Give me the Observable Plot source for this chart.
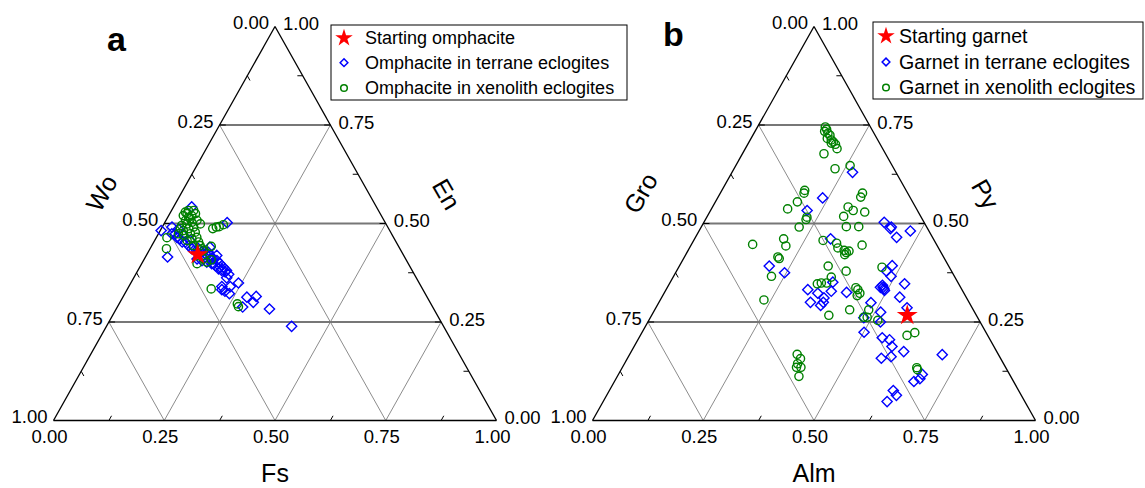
<!DOCTYPE html>
<html><head><meta charset="utf-8">
<script src="https://cdn.jsdelivr.net/npm/d3@7"></script>
<script src="https://cdn.jsdelivr.net/npm/@observablehq/plot@0.6"></script>
<style>
html,body{margin:0;padding:0;background:#fff;}
#chart{position:relative;width:1145px;height:488px;}
</style></head><body><div id="chart"></div>
<script>
// ---------------- data ----------------
const tickValues = [0, 0.25, 0.5, 0.75, 1];
const tickLabels = ["0.00", "0.25", "0.50", "0.75", "1.00"];
const minorValues = [0.125, 0.375, 0.625, 0.875];
const gridValues = [0.25, 0.5, 0.75];

const panelLetters = ["a", "b"];
// vertex names: [left vertex, top vertex, right vertex]
const axisNamesA = ["Wo", "En", "Fs"];
const axisNamesB = ["Gro", "Py", "Alm"];
const legendLabelsA = ["Starting omphacite", "Omphacite in terrane eclogites", "Omphacite in xenolith eclogites"];
const legendLabelsB = ["Starting garnet", "Garnet in terrane eclogites", "Garnet in xenolith eclogites"];

// Panel a: [Wo, En, Fs]
const omphStarting = [[0.464, 0.421, 0.115]];
const omphTerrane = [
  [0.417,0.542,0.041],[0.516,0.482,0.002],[0.535,0.415,0.050],[0.357,0.502,0.141],
  [0.488,0.474,0.038],[0.484,0.461,0.055],[0.476,0.453,0.071],[0.473,0.444,0.083],
  [0.464,0.440,0.096],[0.455,0.436,0.109],[0.452,0.427,0.121],[0.446,0.423,0.131],
  [0.437,0.419,0.144],[0.434,0.410,0.156],[0.428,0.406,0.166],[0.425,0.398,0.177],
  [0.422,0.389,0.189],[0.419,0.381,0.200],[0.435,0.385,0.180],[0.444,0.398,0.158],
  [0.453,0.402,0.145],[0.462,0.406,0.132],[0.471,0.410,0.119],[0.438,0.393,0.169],
  [0.430,0.381,0.189],[0.427,0.440,0.133],[0.437,0.427,0.136],[0.422,0.419,0.159],
  [0.475,0.486,0.039],[0.472,0.470,0.058],[0.463,0.457,0.080],[0.489,0.465,0.046],
  [0.484,0.453,0.064],[0.470,0.436,0.094],[0.463,0.427,0.110],[0.450,0.415,0.135],
  [0.440,0.398,0.162],[0.429,0.389,0.182],[0.424,0.377,0.199],[0.420,0.371,0.210],
  [0.438,0.410,0.152],[0.496,0.474,0.030],[0.487,0.491,0.022],
  [0.428,0.362,0.210],[0.450,0.340,0.210],[0.431,0.340,0.229],[0.408,0.349,0.243],
  [0.449,0.328,0.223],[0.442,0.322,0.236],[0.454,0.332,0.214],[0.407,0.313,0.280],
  [0.386,0.315,0.300],[0.399,0.300,0.301],[0.429,0.288,0.283],[0.371,0.283,0.346],
  [0.343,0.239,0.418]
];
const omphXenolith = [
  [0.438,0.529,0.033],[0.437,0.525,0.039],[0.446,0.520,0.033],[0.437,0.516,0.047],
  [0.436,0.512,0.053],[0.449,0.508,0.044],[0.449,0.499,0.052],[0.436,0.503,0.061],
  [0.463,0.495,0.042],[0.439,0.491,0.071],[0.452,0.487,0.062],[0.465,0.482,0.052],
  [0.441,0.478,0.081],[0.455,0.474,0.072],[0.444,0.465,0.091],[0.457,0.461,0.082],
  [0.471,0.457,0.073],[0.446,0.453,0.101],[0.447,0.444,0.109],[0.462,0.444,0.094],
  [0.447,0.436,0.117],[0.446,0.432,0.123],[0.472,0.470,0.059],[0.471,0.487,0.043],
  [0.481,0.474,0.045],[0.418,0.525,0.058],[0.417,0.533,0.050],[0.429,0.533,0.038],
  [0.423,0.508,0.070],[0.419,0.499,0.082],[0.428,0.520,0.052],[0.512,0.464,0.024],
  [0.528,0.436,0.037],[0.397,0.487,0.116],[0.388,0.491,0.122],[0.379,0.492,0.128],
  [0.368,0.497,0.135],[0.423,0.442,0.135],[0.440,0.408,0.152],[0.456,0.410,0.134],
  [0.453,0.402,0.145],[0.478,0.398,0.125],[0.477,0.334,0.189],[0.437,0.296,0.267],
  [0.438,0.289,0.273]
];

// Panel b: [Gro, Py, Alm]
const grtStarting = [[0.157, 0.267, 0.577]];
const grtTerrane = [
  [0.098,0.630,0.272],[0.198,0.565,0.237],[0.249,0.533,0.218],[0.090,0.503,0.407],
  [0.080,0.491,0.429],[0.084,0.487,0.429],[0.081,0.465,0.454],[0.042,0.481,0.477],
  [0.232,0.461,0.307],[0.405,0.392,0.203],[0.379,0.375,0.246],[0.127,0.393,0.480],
  [0.147,0.379,0.474],[0.143,0.366,0.491],[0.175,0.343,0.483],[0.175,0.338,0.487],
  [0.175,0.334,0.491],[0.176,0.330,0.494],[0.181,0.338,0.481],[0.122,0.347,0.531],
  [0.150,0.313,0.537],[0.147,0.286,0.567],[0.348,0.332,0.320],[0.330,0.323,0.347],
  [0.322,0.311,0.367],[0.329,0.300,0.371],[0.358,0.300,0.342],[0.339,0.292,0.369],
  [0.297,0.328,0.375],[0.282,0.351,0.367],[0.264,0.325,0.411],[0.222,0.299,0.479],
  [0.212,0.275,0.513],[0.257,0.261,0.482],[0.225,0.250,0.525],[0.275,0.224,0.501],
  [0.241,0.210,0.549],[0.227,0.205,0.568],[0.230,0.188,0.582],[0.210,0.175,0.615],
  [0.245,0.162,0.593],[0.269,0.158,0.573],[0.127,0.167,0.706],[0.197,0.117,0.686],
  [0.208,0.106,0.686],[0.225,0.099,0.676],[0.283,0.076,0.641],[0.282,0.064,0.654],
  [0.294,0.048,0.641]
];
const grtXenolith = [
  [0.103,0.745,0.153],[0.103,0.739,0.159],[0.110,0.734,0.157],[0.104,0.729,0.167],
  [0.102,0.724,0.174],[0.113,0.716,0.172],[0.105,0.712,0.183],[0.103,0.707,0.190],
  [0.102,0.701,0.198],[0.103,0.690,0.207],[0.109,0.704,0.187],[0.139,0.677,0.184],
  [0.134,0.639,0.228],[0.095,0.647,0.258],[0.229,0.584,0.187],[0.234,0.577,0.189],
  [0.102,0.577,0.321],[0.112,0.567,0.322],[0.261,0.555,0.185],[0.291,0.537,0.172],
  [0.153,0.542,0.306],[0.145,0.533,0.322],[0.174,0.518,0.308],[0.122,0.529,0.350],
  [0.258,0.516,0.226],[0.263,0.510,0.227],[0.288,0.491,0.221],[0.180,0.492,0.327],
  [0.153,0.492,0.355],[0.416,0.447,0.138],[0.338,0.461,0.201],[0.342,0.443,0.215],
  [0.374,0.415,0.211],[0.373,0.411,0.216],[0.251,0.457,0.292],[0.224,0.450,0.326],
  [0.227,0.438,0.335],[0.217,0.432,0.352],[0.213,0.426,0.360],[0.220,0.421,0.359],
  [0.207,0.430,0.364],[0.169,0.445,0.386],[0.272,0.392,0.336],[0.238,0.379,0.383],
  [0.279,0.364,0.357],[0.152,0.389,0.459],[0.414,0.366,0.221],[0.460,0.306,0.234],
  [0.319,0.347,0.334],[0.310,0.349,0.342],[0.298,0.349,0.354],[0.333,0.267,0.400],
  [0.237,0.337,0.426],[0.235,0.332,0.433],[0.235,0.323,0.442],[0.244,0.317,0.439],
  [0.279,0.281,0.440],[0.236,0.281,0.483],[0.249,0.262,0.489],[0.229,0.254,0.517],
  [0.256,0.262,0.481],[0.182,0.216,0.602],[0.162,0.223,0.616],[0.454,0.168,0.378],
  [0.452,0.157,0.391],[0.465,0.144,0.391],[0.461,0.135,0.403],[0.478,0.112,0.410],
  [0.472,0.135,0.393],[0.202,0.134,0.665],[0.203,0.129,0.669]
];

// ---------------- layout ----------------
const FONT = "'Liberation Sans', Arial, Helvetica, sans-serif";
const panelOffset = {a: 0, b: 1.2167}; // horizontal shift of panel b in triangle widths
const BLUE = "#0000ff", GREEN = "#008000", RED = "#ff0000";

// ternary -> cartesian (t = [left, top, right])
const TX = (p, t) => panelOffset[p] + t[2] + t[1] / 2;
const TY = (t) => t[1];

function panelMarks(p, names, start, terrane, xenolith) {
  const marks = [];
  const hor = [], diag = [];
  for (const v of gridValues) {
    hor.push({a: [1 - v, v, 0], b: [0, v, 1 - v]});
    diag.push({a: [1 - v, 0, v], b: [0, 1 - v, v]});
    diag.push({a: [v, 0, 1 - v], b: [v, 1 - v, 0]});
  }
  const link = (data, opts) => Plot.link(data, {
    x1: d => TX(p, d.a), y1: d => TY(d.a), x2: d => TX(p, d.b), y2: d => TY(d.b), ...opts
  });
  marks.push(link(diag, {stroke: "#8c8c8c", strokeWidth: 1}));
  marks.push(link(hor, {stroke: "#777777", strokeWidth: 1.8}));
  const L = 0.012, M = 0.014;
  const ticks = [];
  for (const v of minorValues) {
    ticks.push({a: [1 - v, 0, v], b: [1 - v - L, L, v]});
    ticks.push({a: [v, 1 - v, 0], b: [v, 1 - v - L, L]});
    ticks.push({a: [0, v, 1 - v], b: [L, v, 1 - v - L]});
  }
  for (const v of gridValues) {
    ticks.push({a: [1 - v, v, 0], b: [1 - v - M, v, M]});
    ticks.push({a: [0, v, 1 - v], b: [M, v, 1 - v - M]});
  }
  marks.push(link(ticks, {stroke: "#000", strokeWidth: 1}));
  const edges = [
    {a: [1, 0, 0], b: [0, 1, 0]}, {a: [0, 1, 0], b: [0, 0, 1]}, {a: [0, 0, 1], b: [1, 0, 0]}
  ];
  marks.push(link(edges, {stroke: "#000", strokeWidth: 1.3}));

  const dotOpts = {x: t => TX(p, t), y: t => TY(t)};
  marks.push(Plot.dot(terrane, {...dotOpts, symbol: d3.symbolDiamond2, r: 4.6, stroke: BLUE, strokeWidth: 1.4, fill: "none"}));
  marks.push(Plot.dot(xenolith, {...dotOpts, symbol: "circle", r: 4.1, stroke: GREEN, strokeWidth: 1.4, fill: "none"}));
  marks.push(Plot.dot(start, {...dotOpts, symbol: "star", r: 6.6, fill: RED, stroke: "none"}));

  const txt = (data, opts) => Plot.text(data, {
    x: d => TX(p, d.t), y: d => TY(d.t), text: "label", fontSize: 18.5, fill: "#000", ...opts
  });
  marks.push(txt(tickValues.map((v, i) => ({t: [v, 1 - v, 0], label: tickLabels[i]})), {textAnchor: "end", dx: -6, dy: -3}));
  marks.push(txt(tickValues.map((v, i) => ({t: [0, v, 1 - v], label: tickLabels[i]})), {textAnchor: "start", dx: 8, dy: -2}));
  marks.push(txt(tickValues.map((v, i) => ({t: [1 - v, 0, v], label: tickLabels[i]})), {textAnchor: "middle", dx: -4, dy: 17}));
  marks.push(txt([{t: [0.5, 0.5, 0], label: names[0]}], {fontSize: 25, rotate: -60, dx: -62, dy: -30}));
  marks.push(txt([{t: [0, 0.5, 0.5], label: names[1]}], {fontSize: 25, rotate: 60, dx: 60, dy: -29}));
  marks.push(txt([{t: [0.5, 0, 0.5], label: names[2]}], {fontSize: 25, dx: 0, dy: 53}));
  return marks;
}

const chart = Plot.plot({
  width: 1145, height: 488,
  marginTop: 0, marginBottom: 0, marginLeft: 0, marginRight: 0,
  style: {fontFamily: FONT, background: "#fff", overflow: "visible"},
  x: {domain: [0, 1], range: [53, 496], axis: null},
  y: {domain: [0, 1], range: [420, 26], axis: null},
  marks: [
    ...panelMarks("a", axisNamesA, omphStarting, omphTerrane, omphXenolith),
    ...panelMarks("b", axisNamesB, grtStarting, grtTerrane, grtXenolith)
  ]
});

// ---------------- legends & panel letters ----------------
const svg = d3.select(chart);
function legend(box, labels, fs) {
  const g = svg.append("g").attr("font-family", FONT).attr("text-anchor", "start");
  g.append("rect").attr("x", box.x).attr("y", box.y).attr("width", box.w).attr("height", box.h)
    .attr("fill", "#fff").attr("stroke", "#000").attr("stroke-width", 1);
  const rows = box.rows;
  g.append("path").attr("transform", `translate(${box.sx},${rows[0]})`)
    .attr("d", d3.symbol(d3.symbolStar, 95)()).attr("fill", RED);
  g.append("path").attr("transform", `translate(${box.sx},${rows[1]})`)
    .attr("d", d3.symbol(d3.symbolDiamond2, 38)()).attr("fill", "none").attr("stroke", BLUE).attr("stroke-width", 1.5);
  g.append("circle").attr("cx", box.sx).attr("cy", rows[2]).attr("r", 3.3)
    .attr("fill", "none").attr("stroke", GREEN).attr("stroke-width", 1.5);
  labels.forEach((t, i) => {
    g.append("text").attr("x", box.tx).attr("y", rows[i]).attr("dy", "0.35em")
      .attr("text-anchor", "start").attr("font-size", fs).attr("fill", "#000").text(t);
  });
}
legend({x: 331, y: 25, w: 296, h: 75, sx: 344, tx: 365, rows: [38, 62.7, 88]}, legendLabelsA, 18);
legend({x: 873, y: 22, w: 270, h: 77, sx: 886, tx: 899, rows: [36, 62, 87.5]}, legendLabelsB, 19.6);

const letters = svg.append("g").attr("font-family", FONT).attr("font-weight", "bold").attr("font-size", 34).attr("text-anchor", "middle");
letters.append("text").attr("x", 116.5).attr("y", 50.5).text(panelLetters[0]);
letters.append("text").attr("x", 673.5).attr("y", 45.5).text(panelLetters[1]);

document.getElementById("chart").appendChild(chart);
</script>
</body></html>
